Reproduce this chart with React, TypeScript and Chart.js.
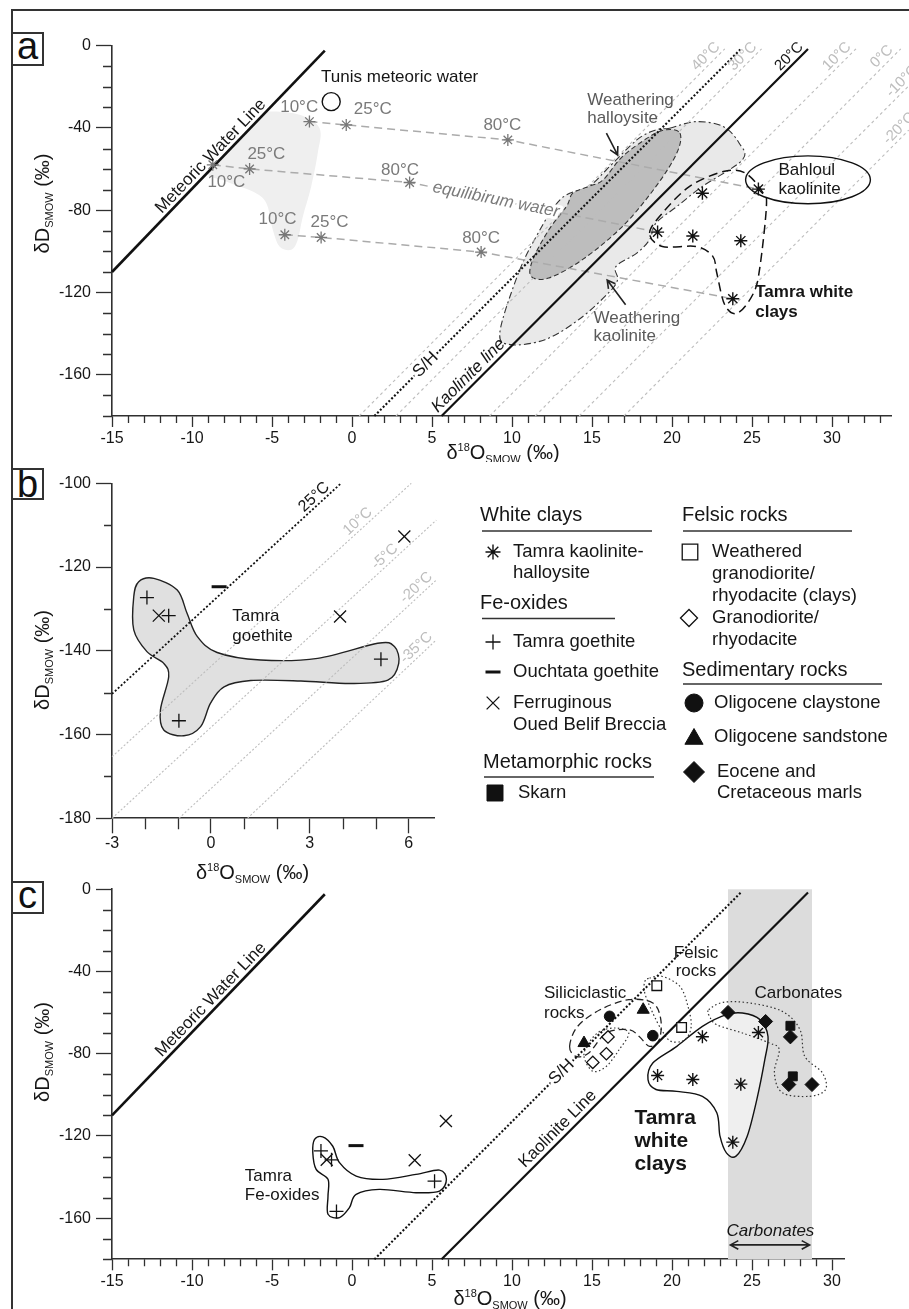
import React, { useEffect, useRef } from 'react';
import { Chart, registerables } from 'chart.js';

Chart.register(...registerables);

type P = { x: number; y: number };
type Pt = [number, number];

const FONT = '"Liberation Sans", Arial, Helvetica, sans-serif';
const INK = '#161616';
const AXIS = '#303030';
const GREY = '#7a7a7a';
const ISO = '#bdbdbd';

/* ================= tick labels ================= */
const xMajorAC = [-15, -10, -5, 0, 5, 10, 15, 20, 25, 30];
const yMajorAC = [0, -40, -80, -120, -160];
const xMajorB = [-3, 0, 3, 6];
const yMajorB = [-100, -120, -140, -160, -180];

/* ================= reference lines ================= */
const meteoricWaterLine: P[] = [{ x: -15, y: -110 }, { x: -1.7, y: -2.4 }];
const kaoliniteLine: P[] = [{ x: 5.6, y: -180 }, { x: 28.5, y: -1.6 }];
const shLine: P[] = [{ x: 1.4, y: -180 }, { x: 24.3, y: -1.6 }];
const iso40: P[] = [{ x: 0.45, y: -180 }, { x: 23.3, y: -1.5 }];
const iso30: P[] = [{ x: 2.75, y: -180 }, { x: 25.6, y: -1.5 }];
const iso10: P[] = [{ x: 8.6, y: -180 }, { x: 31.5, y: -1.5 }];
const iso0: P[] = [{ x: 11.45, y: -180 }, { x: 34.3, y: -1.5 }];
const isoM10: P[] = [{ x: 14.2, y: -180 }, { x: 34.8, y: -19.5 }];
const isoM20: P[] = [{ x: 17.0, y: -180 }, { x: 34.8, y: -41 }];

/* ================= panel a data ================= */
const equilibriumWater10: P[] = [{ x: -2.66, y: -36.9 }, { x: -8.7, y: -57.9 }, { x: -4.2, y: -91.9 }];
const equilibriumWater25: P[] = [{ x: -0.36, y: -38.5 }, { x: -6.4, y: -59.9 }, { x: -1.93, y: -93.2 }];
const equilibriumWater80: P[] = [{ x: 9.74, y: -45.8 }, { x: 3.6, y: -66.5 }, { x: 8.07, y: -100.3 }];
const eqLineUpper: P[] = [{ x: -2.66, y: -36.9 }, { x: -0.36, y: -38.5 }, { x: 9.74, y: -45.8 }, { x: 25.4, y: -69.7 }];
const eqLineMiddle: P[] = [{ x: -8.7, y: -57.9 }, { x: -6.4, y: -59.9 }, { x: 3.6, y: -66.5 }, { x: 19.1, y: -90.6 }];
const eqLineLower: P[] = [{ x: -4.2, y: -91.9 }, { x: -1.93, y: -93.2 }, { x: 8.07, y: -100.3 }, { x: 23.8, y: -123.0 }];
const tamraKaoliniteHalloysite: P[] = [
  { x: 19.1, y: -90.6 }, { x: 21.9, y: -71.7 }, { x: 21.3, y: -92.5 },
  { x: 24.3, y: -94.8 }, { x: 25.4, y: -69.7 }, { x: 23.8, y: -123.0 },
];
const tunisMeteoricWater: P[] = [{ x: -1.3, y: -27.2 }];

const temperatureField: Pt[] = [
  [-5.05, -32.0], [-3.28, -33.6], [-2.03, -40.1], [-2.14, -52.2], [-2.55, -68.4], [-3.07, -83.0],
  [-3.39, -94.3], [-3.8, -99.2], [-4.53, -97.6], [-4.95, -89.5], [-5.36, -76.5], [-6.2, -70.9],
  [-7.86, -66.0], [-9.0, -61.2], [-7.03, -45.8], [-5.58, -34.5],
];
const weatheringKaoliniteField: Pt[] = [
  [19.85, -40.1], [21.5, -36.9], [23.2, -39.3], [24.2, -47.4], [24.4, -55.5], [21.9, -68.4],
  [20.3, -78.2], [19.0, -86.2], [18.6, -94.3], [17.8, -100.8], [16.5, -107.3], [16.6, -113.7],
  [16.05, -120], [14.2, -133], [12.06, -142.9], [9.9, -145.3], [9.24, -139.5], [10.25, -113.7],
  [11.3, -95.8], [13.0, -74.9], [14.8, -68.4], [15.9, -60.3], [17.8, -45.8], [19.0, -40.9],
];
const weatheringHalloysiteField: Pt[] = [
  [20.5, -42.5], [20.3, -52.2], [19.0, -68.4], [16.9, -87.9], [14.4, -104.0], [12.3, -112.9],
  [11.2, -112.1], [11.3, -104.0], [12.3, -89.5], [13.4, -78.2], [13.8, -71.7], [14.8, -68.4],
  [15.7, -65.2], [16.9, -53.9], [18.6, -44.2], [19.6, -40.9],
];
const tamraClaysFieldA: Pt[] = [
  [18.6, -91.1], [19.4, -81.4], [21.1, -68.4], [23.2, -61.2], [24.6, -62.0], [25.7, -71.7],
  [25.9, -78.2], [25.5, -107.3], [25.1, -120.2], [24.1, -130], [23.3, -126], [22.8, -110.5],
  [22.55, -102.4], [21.5, -97.6], [19.4, -97.6],
];
const bahloulKaolinite = { x: 28.5, y: -65.2, rx: 3.9, ry: 11.65 };

/* ================= panel b data ================= */
const tamraGoethite: P[] = [{ x: -1.94, y: -127.3 }, { x: -1.28, y: -131.6 }, { x: 5.16, y: -142.0 }, { x: -0.97, y: -156.7 }];
const ouchtataGoethite: P[] = [{ x: 0.25, y: -124.7 }];
const ferruginousBreccia: P[] = [{ x: -1.58, y: -131.6 }, { x: 5.87, y: -112.7 }, { x: 3.92, y: -131.8 }];
const bIso25: P[] = [{ x: -3, y: -150.3 }, { x: 3.95, y: -100 }];
const bIso10: P[] = [{ x: -3, y: -165.3 }, { x: 6.08, y: -100 }];
const bIsoM5: P[] = [{ x: -3, y: -180 }, { x: 6.84, y: -108.8 }];
const bIsoM20: P[] = [{ x: -0.97, y: -180 }, { x: 6.84, y: -123.1 }];
const bIsoM35: P[] = [{ x: 1.11, y: -180 }, { x: 6.84, y: -137.4 }];
const goethiteFieldB: Pt[] = [
  [-2.34, -127.1], [-2.19, -123.5], [-1.73, -122.7], [-1.02, -125.5], [-0.72, -131.1], [-0.41, -136.6],
  [0.19, -140.4], [1.51, -142.2], [3.24, -141.8], [5.06, -138.2], [5.57, -139.0], [5.7, -143.0],
  [5.37, -147.0], [4.25, -147.8], [2.73, -147.2], [1.21, -147.1], [0.4, -148.6], [-0.01, -152.5],
  [-0.31, -158.1], [-0.82, -160.3], [-1.43, -158.9], [-1.53, -154.1], [-1.28, -146.2], [-1.43, -143.0],
  [-1.94, -140.2], [-2.34, -135.0],
];

/* ================= panel c data ================= */
const weatheredGranodiorite: P[] = [{ x: 19.05, y: -46.9 }, { x: 20.6, y: -67.2 }];
const granodiorite: P[] = [{ x: 16.0, y: -71.8 }, { x: 15.9, y: -80.0 }, { x: 15.05, y: -84.2 }];
const oligoceneClaystone: P[] = [{ x: 16.1, y: -61.8 }, { x: 18.8, y: -71.2 }];
const oligoceneSandstone: P[] = [{ x: 18.2, y: -58.6 }, { x: 14.5, y: -74.8 }];
const eoceneCretaceousMarls: P[] = [
  { x: 23.5, y: -59.9 }, { x: 25.85, y: -64.3 }, { x: 27.4, y: -71.8 }, { x: 27.3, y: -95.0 }, { x: 28.75, y: -95.0 },
];
const skarn: P[] = [{ x: 27.4, y: -66.4 }, { x: 27.55, y: -91.0 }];
const carbonateBand = { from: 23.5, to: 28.75 };

const tamraClaysFieldC: Pt[] = [
  [18.5, -92.6], [18.8, -84.5], [20.3, -76.4], [21.9, -66.7], [23.4, -61.0], [24.4, -60.2],
  [25.5, -63.4], [26.0, -71.6], [25.8, -82.9], [25.3, -102.3], [24.7, -120.1], [24.0, -129.8],
  [23.4, -128.2], [23.0, -120.1], [22.8, -108.7], [21.9, -100.7], [20.3, -98.3], [19.0, -97.4],
];
const felsicFieldC: Pt[] = [
  [18.6, -43.2], [19.4, -42.4], [20.5, -47.3], [21.0, -57.0], [21.2, -66.7], [20.8, -73.2],
  [19.95, -74.0], [19.4, -69.1], [18.8, -60.2], [18.3, -50.5], [18.3, -44.9],
];
const felsicFieldC2: Pt[] = [
  [14.5, -81.3], [15.05, -88.5], [15.9, -86.1], [16.7, -78.0], [17.3, -70], [16.5, -67.5], [15.5, -69.1], [14.8, -74.8],
];
const siliciclasticFieldC: Pt[] = [
  [13.6, -76.4], [14.1, -66.7], [15.5, -58.6], [17.3, -53.7], [18.8, -55.3], [19.3, -63.4], [19.2, -73.2],
  [18.6, -76.4], [17.95, -71.6], [17.3, -68.3], [15.9, -69.9], [14.8, -79.6], [14.0, -81.3],
];
const carbonatesFieldC: Pt[] = [
  [22.3, -58.6], [23.2, -55.0], [24.85, -55.3], [26.9, -59.4], [28.0, -68.3], [28.3, -81.3], [29.4, -89.3],
  [29.6, -97.4], [28.6, -100.7], [26.9, -99.0], [26.4, -89.3], [26.7, -78.0], [26.1, -74.8], [24.4, -69.9],
  [22.8, -65.9], [22.35, -61.8],
];
const feOxidesFieldC: Pt[] = [
  [-2.34, -121.7], [-1.83, -120.4], [-1.2, -125.0], [-0.78, -133.0], [0.26, -139.5], [1.93, -141.1],
  [4.0, -138.7], [5.47, -136.6], [5.9, -141.1], [5.47, -146.8], [4.0, -147.6], [1.7, -146.0],
  [0.26, -148.4], [-0.16, -154.9], [-0.78, -159.7], [-1.5, -158.1], [-1.5, -149.2], [-1.5, -141.1],
  [-2.24, -136.3], [-2.45, -128.2],
];

/* ================= helpers ================= */
const X = (c: any, v: number) => c.scales.x.getPixelForValue(v);
const Y = (c: any, v: number) => c.scales.y.getPixelForValue(v);
const onLineY = (L: P[], x: number) => L[0].y + ((x - L[0].x) * (L[1].y - L[0].y)) / (L[1].x - L[0].x);
const onLineX = (L: P[], y: number) => L[0].x + ((y - L[0].y) * (L[1].x - L[0].x)) / (L[1].y - L[0].y);
const angleOf = (c: any, L: P[]) => Math.atan2(Y(c, L[1].y) - Y(c, L[0].y), X(c, L[1].x) - X(c, L[0].x));
const stepRange = (a: number, b: number, s: number) => {
  const r: number[] = [];
  for (let v = a; v <= b + 1e-9; v += s) r.push(Math.round(v * 100) / 100);
  return r;
};

type LO = { size?: number; color?: string; bold?: boolean; italic?: boolean; align?: CanvasTextAlign; base?: CanvasTextBaseline; rot?: number; dy?: number; halo?: boolean };
function text(ctx: CanvasRenderingContext2D, s: string, x: number, y: number, o: LO = {}) {
  ctx.save();
  ctx.translate(x, y);
  if (o.rot) ctx.rotate(o.rot);
  ctx.font = `${o.italic ? 'italic ' : ''}${o.bold ? 'bold ' : ''}${o.size || 17}px ${FONT}`;
  ctx.textAlign = o.align || 'center';
  ctx.textBaseline = o.base || 'middle';
  if (o.halo) {
    ctx.strokeStyle = '#ffffff';
    ctx.lineWidth = 6;
    ctx.lineJoin = 'round';
    ctx.strokeText(s, 0, o.dy || 0);
  }
  ctx.fillStyle = o.color || INK;
  ctx.fillText(s, 0, o.dy || 0);
  ctx.restore();
}
function dataText(c: any, s: string, x: number, y: number, o: LO = {}) {
  text(c.ctx, s, X(c, x), Y(c, y), o);
}
function lineLabel(c: any, L: P[], ax: number, s: string, off: number, o: LO = {}) {
  text(c.ctx, s, X(c, ax), Y(c, onLineY(L, ax)), { ...o, rot: angleOf(c, L), dy: -off });
}

function blob(c: any, pts: Pt[], o: { fill?: string; stroke?: string; lw?: number; dash?: number[] }) {
  const ctx: CanvasRenderingContext2D = c.ctx;
  const q = pts.map((p) => [X(c, p[0]), Y(c, p[1])]);
  const n = q.length;
  ctx.save();
  ctx.beginPath();
  ctx.moveTo(q[0][0], q[0][1]);
  for (let i = 0; i < n; i++) {
    const p0 = q[(i - 1 + n) % n], p1 = q[i], p2 = q[(i + 1) % n], p3 = q[(i + 2) % n];
    ctx.bezierCurveTo(
      p1[0] + (p2[0] - p0[0]) / 6, p1[1] + (p2[1] - p0[1]) / 6,
      p2[0] - (p3[0] - p1[0]) / 6, p2[1] - (p3[1] - p1[1]) / 6,
      p2[0], p2[1],
    );
  }
  ctx.closePath();
  if (o.fill) {
    ctx.fillStyle = o.fill;
    ctx.fill();
  }
  if (o.stroke) {
    ctx.setLineDash(o.dash || []);
    ctx.strokeStyle = o.stroke;
    ctx.lineWidth = o.lw || 1.2;
    ctx.stroke();
  }
  ctx.restore();
}

function arrow(ctx: CanvasRenderingContext2D, x1: number, y1: number, x2: number, y2: number, color: string, both = false) {
  const a = Math.atan2(y2 - y1, x2 - x1);
  const h = 9, w = 0.5;
  ctx.save();
  ctx.strokeStyle = color;
  ctx.lineWidth = 1.6;
  ctx.beginPath();
  ctx.moveTo(x1, y1);
  ctx.lineTo(x2, y2);
  ctx.moveTo(x2 - h * Math.cos(a - w), y2 - h * Math.sin(a - w));
  ctx.lineTo(x2, y2);
  ctx.lineTo(x2 - h * Math.cos(a + w), y2 - h * Math.sin(a + w));
  if (both) {
    ctx.moveTo(x1 + h * Math.cos(a - w), y1 + h * Math.sin(a - w));
    ctx.lineTo(x1, y1);
    ctx.lineTo(x1 + h * Math.cos(a + w), y1 + h * Math.sin(a + w));
  }
  ctx.stroke();
  ctx.restore();
}

function minorTicks(c: any, xs: number[], ys: number[], xl: number, yl: number) {
  const ctx: CanvasRenderingContext2D = c.ctx;
  const a = c.chartArea;
  ctx.save();
  ctx.strokeStyle = AXIS;
  ctx.lineWidth = 1.3;
  ctx.beginPath();
  xs.forEach((v) => {
    const p = Math.round(X(c, v)) + 0.5;
    ctx.moveTo(p, a.bottom);
    ctx.lineTo(p, a.bottom + xl);
  });
  ys.forEach((v) => {
    const p = Math.round(Y(c, v)) + 0.5;
    ctx.moveTo(a.left, p);
    ctx.lineTo(a.left - yl, p);
  });
  ctx.stroke();
  ctx.restore();
}

type Seg = [string, number, number];
const dTitle: Seg[] = [['δD', 20, 0], ['SMOW', 11, 4], [' (‰)', 20, 0]];
const oTitle: Seg[] = [['δ', 20, 0], ['18', 11, -8], ['O', 20, 0], ['SMOW', 11, 4], [' (‰)', 20, 0]];
function rich(ctx: CanvasRenderingContext2D, segs: Seg[], cx: number, cy: number, rot: number) {
  ctx.save();
  ctx.translate(cx, cy);
  ctx.rotate(rot);
  ctx.fillStyle = INK;
  ctx.textBaseline = 'alphabetic';
  ctx.textAlign = 'left';
  let w = 0;
  segs.forEach((s) => {
    ctx.font = `${s[1]}px ${FONT}`;
    w += ctx.measureText(s[0]).width;
  });
  let x = -w / 2;
  segs.forEach((s) => {
    ctx.font = `${s[1]}px ${FONT}`;
    ctx.fillText(s[0], x, 7 + s[2]);
    x += ctx.measureText(s[0]).width;
  });
  ctx.restore();
}

function mark(ctx: CanvasRenderingContext2D, style: string, x: number, y: number, r: number, fill: string, stroke: string, lw: number) {
  const d = Math.SQRT1_2 * r;
  ctx.save();
  ctx.beginPath();
  ctx.lineWidth = lw;
  ctx.strokeStyle = stroke;
  ctx.fillStyle = fill;
  if (style === 'circle') {
    ctx.arc(x, y, r, 0, Math.PI * 2);
    ctx.fill();
    ctx.stroke();
  } else if (style === 'rect') {
    ctx.rect(x - d, y - d, 2 * d, 2 * d);
    ctx.fill();
    ctx.stroke();
  } else if (style === 'rectRot') {
    ctx.moveTo(x - r, y);
    ctx.lineTo(x, y - r);
    ctx.lineTo(x + r, y);
    ctx.lineTo(x, y + r);
    ctx.closePath();
    ctx.fill();
    ctx.stroke();
  } else if (style === 'triangle') {
    ctx.moveTo(x, y - r);
    ctx.lineTo(x + r * Math.sin((2 * Math.PI) / 3), y - r * Math.cos((2 * Math.PI) / 3));
    ctx.lineTo(x + r * Math.sin((4 * Math.PI) / 3), y - r * Math.cos((4 * Math.PI) / 3));
    ctx.closePath();
    ctx.fill();
    ctx.stroke();
  } else {
    if (style === 'cross' || style === 'star') {
      ctx.moveTo(x, y - r);
      ctx.lineTo(x, y + r);
      ctx.moveTo(x - r, y);
      ctx.lineTo(x + r, y);
    }
    if (style === 'crossRot' || style === 'star') {
      ctx.moveTo(x - d, y - d);
      ctx.lineTo(x + d, y + d);
      ctx.moveTo(x - d, y + d);
      ctx.lineTo(x + d, y - d);
    }
    if (style === 'line') {
      ctx.moveTo(x - r, y);
      ctx.lineTo(x + r, y);
    }
    ctx.stroke();
  }
  ctx.restore();
}

/* ================= dataset factories ================= */
const pts = (data: P[], style: string, r: number, fill: string, stroke: string, lw = 1.3) => ({
  data, showLine: false, pointStyle: style, pointRadius: r, pointHoverRadius: r,
  pointBackgroundColor: fill, pointBorderColor: stroke, pointBorderWidth: lw, clip: false,
});
const line = (data: P[], color: string, lw: number, dash: number[] = []) => ({
  data, showLine: true, pointRadius: 0, pointHoverRadius: 0, borderColor: color, borderWidth: lw,
  borderDash: dash, fill: false, tension: 0, clip: false,
});

function buildConfig(p: any) {
  return {
    type: 'scatter',
    data: { datasets: p.datasets },
    options: {
      responsive: false,
      maintainAspectRatio: false,
      animation: false,
      devicePixelRatio: 1,
      events: [],
      layout: { padding: { left: 0, top: p.padTop, right: p.padRight, bottom: 0 } },
      plugins: { legend: { display: false }, tooltip: { enabled: false }, title: { display: false } },
      scales: {
        x: {
          type: 'linear', position: 'bottom', min: p.xMin, max: p.xMax,
          afterBuildTicks: (s: any) => { s.ticks = p.xMajor.map((v: number) => ({ value: v })); },
          afterFit: (s: any) => { s.height = p.xAxisH; },
          ticks: { autoSkip: false, maxRotation: 0, minRotation: 0, padding: p.xPad, color: INK, font: { family: FONT, size: 16 }, callback: (v: any) => String(v) },
          grid: { display: true, drawOnChartArea: false, drawTicks: true, tickLength: p.xTick, tickWidth: 1.3, tickColor: AXIS },
          border: { display: true, color: AXIS, width: 1.6 },
        },
        y: {
          type: 'linear', position: 'left', min: p.yMin, max: p.yMax,
          afterBuildTicks: (s: any) => { s.ticks = p.yMajor.map((v: number) => ({ value: v })); },
          afterFit: (s: any) => { s.width = 112; },
          ticks: { autoSkip: false, padding: 5, color: INK, font: { family: FONT, size: 16 }, callback: (v: any) => String(v) },
          grid: { display: true, drawOnChartArea: false, drawTicks: true, tickLength: 16, tickWidth: 1.3, tickColor: AXIS },
          border: { display: true, color: AXIS, width: 1.6 },
        },
      },
    },
    plugins: [{ id: 'paint', beforeDatasetsDraw: (c: any) => p.before(c), afterDatasetsDraw: (c: any) => p.after(c) }],
  };
}

/* ================= panel a ================= */
const TOP_A = 0, H_A = 462;
function configA() {
  return buildConfig({
    xMin: -15, xMax: 33.7, yMin: -180, yMax: 0, xMajor: xMajorAC, yMajor: yMajorAC,
    xTick: 11, xPad: 2, padTop: 45.7, padRight: 17.8, xAxisH: 46,
    datasets: [
      pts(tamraKaoliniteHalloysite, 'star', 6.5, '#111', '#111', 1.4),
      pts([...equilibriumWater10, ...equilibriumWater25, ...equilibriumWater80], 'star', 6, '#777', '#777', 1.3),
      pts(tunisMeteoricWater, 'circle', 9, '#fff', '#111', 1.4),
      line(meteoricWaterLine, '#111', 2.6),
      line(kaoliniteLine, '#111', 2.2),
      line(shLine, '#111', 2.1, [2, 2]),
      line(eqLineUpper, '#ababab', 1.5, [8, 5]),
      line(eqLineMiddle, '#ababab', 1.5, [8, 5]),
      line(eqLineLower, '#ababab', 1.5, [8, 5]),
      line(iso40, ISO, 1.1, [3, 3]),
      line(iso30, ISO, 1.1, [3, 3]),
      line(iso10, ISO, 1.1, [3, 3]),
      line(iso0, ISO, 1.1, [3, 3]),
      line(isoM10, ISO, 1.1, [3, 3]),
      line(isoM20, ISO, 1.1, [3, 3]),
    ],
    before: (c: any) => {
      blob(c, temperatureField, { fill: '#efefef' });
      blob(c, weatheringKaoliniteField, { fill: '#e9e9e9', stroke: '#333', lw: 1.1, dash: [7, 3, 2, 3] });
      blob(c, weatheringHalloysiteField, { fill: '#bdbdbd', stroke: '#333', lw: 1.1, dash: [5, 3] });
    },
    after: (c: any) => {
      const ctx = c.ctx;
      minorTicks(c, stepRange(-15, 33, 1).filter((v) => v % 5 !== 0), stepRange(-180, 0, 10).filter((v) => v % 40 !== 0), 7, 9);
      rich(ctx, dTitle, 42, 203.5 - TOP_A, -Math.PI / 2);
      rich(ctx, oTitle, 503, 452 - TOP_A, 0);
      blob(c, tamraClaysFieldA, { stroke: '#111', lw: 1.5, dash: [9, 5] });
      lineLabel(c, meteoricWaterLine, -8.42, 'Meteoric Water Line', 9);
      lineLabel(c, kaoliniteLine, 7.7, 'Kaolinite line', 9.5, { italic: true });
      lineLabel(c, shLine, 4.6, 'S/H', 0, { halo: true });
      lineLabel(c, kaoliniteLine, onLineX(kaoliniteLine, -8), '20°C', 8, { size: 15 });
      const isoLabels: [P[], number, string][] = [
        [iso40, -8, '40°C'], [iso30, -8, '30°C'], [iso10, -8, '10°C'], [iso0, -8, '0°C'], [isoM10, -20, '-10°C'], [isoM20, -43, '-20°C'],
      ];
      isoLabels.forEach(([L, ay, s]) => lineLabel(c, L, onLineX(L, ay), s, 8, { size: 15, color: ISO }));
      const g = { color: GREY, size: 17 };
      dataText(c, '10°C', -3.3, -29.8, g);
      dataText(c, '25°C', 1.3, -30.8, g);
      dataText(c, '80°C', 9.4, -38.9, g);
      dataText(c, '25°C', -5.35, -52.7, g);
      dataText(c, '10°C', -7.85, -66.6, g);
      dataText(c, '80°C', 3.0, -60.8, g);
      dataText(c, '10°C', -4.65, -84.6, g);
      dataText(c, '25°C', -1.4, -86.0, g);
      dataText(c, '80°C', 8.07, -93.4, g);
      const ax = 9.0;
      text(ctx, 'equilibirum water', X(c, ax), Y(c, onLineY([eqLineMiddle[2], eqLineMiddle[3]], ax)), {
        italic: true, color: GREY, size: 17, rot: angleOf(c, [eqLineMiddle[2], eqLineMiddle[3]]), halo: true,
      });
      dataText(c, 'Tunis meteoric water', -1.93, -15.5, { align: 'left' });
      dataText(c, 'Weathering', 14.7, -26.4, { align: 'left', color: '#5a5a5a' });
      dataText(c, 'halloysite', 14.7, -35.2, { align: 'left', color: '#5a5a5a' });
      arrow(ctx, X(c, 15.9), Y(c, -42.5), X(c, 16.6), Y(c, -53.1), '#222');
      dataText(c, 'Weathering', 15.1, -132.3, { align: 'left', color: '#5a5a5a' });
      dataText(c, 'kaolinite', 15.1, -141.3, { align: 'left', color: '#5a5a5a' });
      arrow(ctx, X(c, 17.1), Y(c, -125.9), X(c, 15.95), Y(c, -113.9), '#222');
      ctx.save();
      ctx.beginPath();
      const bx = X(c, bahloulKaolinite.x), by = Y(c, bahloulKaolinite.y);
      ctx.ellipse(bx, by, Math.abs(X(c, bahloulKaolinite.x + bahloulKaolinite.rx) - bx), Math.abs(Y(c, bahloulKaolinite.y + bahloulKaolinite.ry) - by), 0, 0, Math.PI * 2);
      ctx.strokeStyle = '#111';
      ctx.lineWidth = 1.4;
      ctx.stroke();
      ctx.restore();
      dataText(c, 'Bahloul', 26.65, -60.7, { align: 'left' });
      dataText(c, 'kaolinite', 26.65, -70.0, { align: 'left' });
      dataText(c, 'Tamra white', 25.2, -120.0, { align: 'left', bold: true });
      dataText(c, 'clays', 25.2, -129.8, { align: 'left', bold: true });
    },
  });
}

/* ================= panel b ================= */
const TOP_B = 462, H_B = 424;
function drawLegend(c: any) {
  const ctx: CanvasRenderingContext2D = c.ctx;
  const t = TOP_B;
  const item = (s: string, x: number, y: number) => text(ctx, s, x, y - t, { size: 18.5, align: 'left' });
  const head = (s: string, x: number, y: number, ux1: number, ux2: number, uy: number) => {
    text(ctx, s, x, y - t, { size: 20, align: 'left' });
    ctx.save();
    ctx.strokeStyle = '#333';
    ctx.lineWidth = 1.4;
    ctx.beginPath();
    ctx.moveTo(ux1, uy - t);
    ctx.lineTo(ux2, uy - t);
    ctx.stroke();
    ctx.restore();
  };
  head('White clays', 480, 515, 482, 652, 531);
  mark(ctx, 'star', 493, 552 - t, 7.5, '#111', '#111', 1.4);
  item('Tamra kaolinite-', 513, 552);
  item('halloysite', 513, 573);
  head('Fe-oxides', 480, 603, 482, 615, 618.5);
  mark(ctx, 'cross', 493, 642 - t, 7.5, '#111', '#111', 1.3);
  item('Tamra goethite', 513, 642);
  mark(ctx, 'line', 493, 672 - t, 7.5, '#111', '#111', 3);
  item('Ouchtata goethite', 513, 672);
  mark(ctx, 'crossRot', 493, 703 - t, 9, '#111', '#111', 1.3);
  item('Ferruginous', 513, 703);
  item('Oued Belif Breccia', 513, 725);
  head('Metamorphic rocks', 483, 762, 484, 654, 777);
  mark(ctx, 'rect', 495, 793 - t, 11.3, '#111', '#111', 1);
  item('Skarn', 518, 793);

  head('Felsic rocks', 682, 515, 683, 852, 531);
  mark(ctx, 'rect', 690, 552 - t, 11, '#fff', '#111', 1.3);
  item('Weathered', 712, 552);
  item('granodiorite/', 712, 574);
  item('rhyodacite (clays)', 712, 596);
  mark(ctx, 'rectRot', 689, 618 - t, 8.5, '#fff', '#111', 1.3);
  item('Granodiorite/', 712, 618);
  item('rhyodacite', 712, 640);
  head('Sedimentary rocks', 682, 670, 683, 882, 684);
  mark(ctx, 'circle', 694, 703 - t, 9, '#111', '#111', 1);
  item('Oligocene claystone', 714, 703);
  mark(ctx, 'triangle', 694, 739 - t, 10.5, '#111', '#111', 1);
  item('Oligocene sandstone', 714, 737);
  mark(ctx, 'rectRot', 694, 772 - t, 10.5, '#111', '#111', 1);
  item('Eocene and', 717, 772);
  item('Cretaceous marls', 717, 793);
}
function configB() {
  return buildConfig({
    xMin: -3, xMax: 6.77, yMin: -180, yMax: -100, xMajor: xMajorB, yMajor: yMajorB,
    xTick: 15, xPad: 1, padTop: 483.3 - TOP_B, padRight: 475, xAxisH: H_B - (818.3 - TOP_B),
    datasets: [
      pts(tamraGoethite, 'cross', 7, '#111', '#111', 1.3),
      pts(ouchtataGoethite, 'line', 7.5, '#111', '#111', 3),
      pts(ferruginousBreccia, 'crossRot', 8.5, '#111', '#111', 1.3),
      line(bIso25, '#111', 1.8, [2, 2]),
      line(bIso10, ISO, 1.1, [2, 2]),
      line(bIsoM5, ISO, 1.1, [2, 2]),
      line(bIsoM20, ISO, 1.1, [2, 2]),
      line(bIsoM35, ISO, 1.1, [2, 2]),
    ],
    before: (c: any) => {
      blob(c, goethiteFieldB, { fill: '#e0e0e0', stroke: '#222', lw: 1.4 });
    },
    after: (c: any) => {
      const ctx = c.ctx;
      minorTicks(c, [-2, -1, 1, 2, 4, 5], [-110, -130, -150, -170], 11, 8);
      rich(ctx, dTitle, 42, 660 - TOP_B, -Math.PI / 2);
      rich(ctx, oTitle, 252.5, 871.7 - TOP_B, 0);
      lineLabel(c, bIso25, 3.3, '25°C', 8, { size: 16 });
      lineLabel(c, bIso10, 4.62, '10°C', 8, { size: 15, color: ISO });
      lineLabel(c, bIsoM5, 5.44, '-5°C', 8, { size: 15, color: ISO });
      lineLabel(c, bIsoM20, 6.4, '-20°C', 8, { size: 15, color: ISO });
      lineLabel(c, bIsoM35, 6.4, '-35°C', 8, { size: 15, color: ISO });
      dataText(c, 'Tamra', 0.65, -131.8, { align: 'left' });
      dataText(c, 'goethite', 0.65, -136.6, { align: 'left' });
      drawLegend(c);
    },
  });
}

/* ================= panel c ================= */
const TOP_C = 870, H_C = 439;
function configC() {
  return buildConfig({
    xMin: -15, xMax: 30.8, yMin: -180, yMax: 0, xMajor: xMajorAC, yMajor: yMajorAC,
    xTick: 11, xPad: 2, padTop: 889.3 - TOP_C, padRight: 64.2, xAxisH: H_C - (1259.3 - TOP_C),
    datasets: [
      pts(tamraKaoliniteHalloysite, 'star', 6.5, '#111', '#111', 1.4),
      pts(tamraGoethite, 'cross', 7, '#111', '#111', 1.3),
      pts(ouchtataGoethite, 'line', 7.5, '#111', '#111', 3),
      pts(ferruginousBreccia, 'crossRot', 8.5, '#111', '#111', 1.3),
      pts(weatheredGranodiorite, 'rect', 6.8, '#fff', '#111', 1.3),
      pts(granodiorite, 'rectRot', 6.2, '#fff', '#111', 1.3),
      pts(oligoceneClaystone, 'circle', 5.3, '#111', '#111', 1),
      pts(oligoceneSandstone, 'triangle', 7, '#111', '#111', 1),
      pts(eoceneCretaceousMarls, 'rectRot', 7, '#111', '#111', 1),
      pts(skarn, 'rect', 6.3, '#111', '#111', 1),
      line(meteoricWaterLine, '#111', 2.6),
      line(kaoliniteLine, '#111', 2.2),
      line(shLine, '#111', 2.1, [2, 2]),
    ],
    before: (c: any) => {
      const ctx = c.ctx;
      const a = c.chartArea;
      ctx.save();
      ctx.fillStyle = '#dcdcdc';
      const x1 = X(c, carbonateBand.from), x2 = X(c, carbonateBand.to);
      ctx.fillRect(x1, Y(c, 0), x2 - x1, a.bottom - Y(c, 0));
      ctx.restore();
      blob(c, tamraClaysFieldC, { fill: 'rgba(255,255,255,0.55)', stroke: '#111', lw: 1.4 });
      blob(c, feOxidesFieldC, { stroke: '#111', lw: 1.4 });
      blob(c, carbonatesFieldC, { stroke: '#333', lw: 1.2, dash: [1.5, 2.5] });
      blob(c, felsicFieldC, { stroke: '#333', lw: 1.2, dash: [1.5, 2.5] });
      blob(c, felsicFieldC2, { stroke: '#333', lw: 1.2, dash: [1.5, 2.5] });
      blob(c, siliciclasticFieldC, { stroke: '#222', lw: 1.3, dash: [7, 4] });
    },
    after: (c: any) => {
      const ctx = c.ctx;
      minorTicks(c, stepRange(-15, 30, 1).filter((v) => v % 5 !== 0), stepRange(-180, 0, 10).filter((v) => v % 40 !== 0), 7, 9);
      rich(ctx, dTitle, 42, 1052 - TOP_C, -Math.PI / 2);
      rich(ctx, oTitle, 510, 1298 - TOP_C, 0);
      lineLabel(c, meteoricWaterLine, -8.42, 'Meteoric Water Line', 9);
      lineLabel(c, kaoliniteLine, 13.3, 'Kaolinite Line', 10);
      lineLabel(c, shLine, 13.1, 'S/H', 0, { halo: true });
      dataText(c, 'Felsic', 21.5, -31.1);
      dataText(c, 'rocks', 21.5, -40.0);
      dataText(c, 'Siliciclastic', 12.0, -50.8, { align: 'left' });
      dataText(c, 'rocks', 12.0, -60.2, { align: 'left' });
      dataText(c, 'Carbonates', 27.9, -50.5);
      dataText(c, 'Tamra', 17.65, -111.2, { align: 'left', bold: true, size: 21 });
      dataText(c, 'white', 17.65, -122.5, { align: 'left', bold: true, size: 21 });
      dataText(c, 'clays', 17.65, -133.8, { align: 'left', bold: true, size: 21 });
      dataText(c, 'Tamra', -6.7, -139.5, { align: 'left' });
      dataText(c, 'Fe-oxides', -6.7, -148.9, { align: 'left' });
      dataText(c, 'Carbonates', 26.15, -166.5, { italic: true });
      arrow(ctx, X(c, 23.65), Y(c, -173), X(c, 28.6), Y(c, -173), '#222', true);
    },
  });
}

function ChartBox({ top, height, config }: { top: number; height: number; config: () => any }) {
  const ref = useRef<HTMLCanvasElement | null>(null);
  useEffect(() => {
    if (!ref.current) return;
    const ch = new Chart(ref.current, config());
    return () => ch.destroy();
  }, []);
  return (
    <canvas
      ref={ref}
      width={909}
      height={height}
      style={{ position: 'absolute', left: 0, top, width: 909, height, display: 'block' }}
    />
  );
}

function PanelTag({ letter, top, h, glyphTop }: { letter: string; top: number; h: number; glyphTop: number }) {
  return (
    <div
      style={{
        position: 'absolute', left: 11, top, width: 33, height: h, boxSizing: 'border-box',
        border: '2px solid #333', background: '#fff', overflow: 'hidden',
      }}
    >
      <span
        style={{
          position: 'absolute', left: 0, width: 29, top: glyphTop, textAlign: 'center',
          font: `38px ${FONT}`, lineHeight: '38px', color: '#111',
        }}
      >
        {letter}
      </span>
    </div>
  );
}

export default function App() {
  return (
    <div style={{ position: 'absolute', left: 0, top: 0, width: 909, height: 1309, overflow: 'hidden', background: '#fff' }}>
      <div
        style={{
          position: 'absolute', left: 11, top: 9, width: 898, height: 1300, boxSizing: 'border-box',
          borderLeft: '2px solid #333', borderTop: '2px solid #333',
        }}
      />
      <ChartBox top={TOP_A} height={H_A} config={configA} />
      <ChartBox top={TOP_B} height={H_B} config={configB} />
      <ChartBox top={TOP_C} height={H_C} config={configC} />
      <PanelTag letter="a" top={32} h={34} glyphTop={-7} />
      <PanelTag letter="b" top={468} h={32} glyphTop={-5} />
      <PanelTag letter="c" top={881} h={33} glyphTop={-7} />
    </div>
  );
}
